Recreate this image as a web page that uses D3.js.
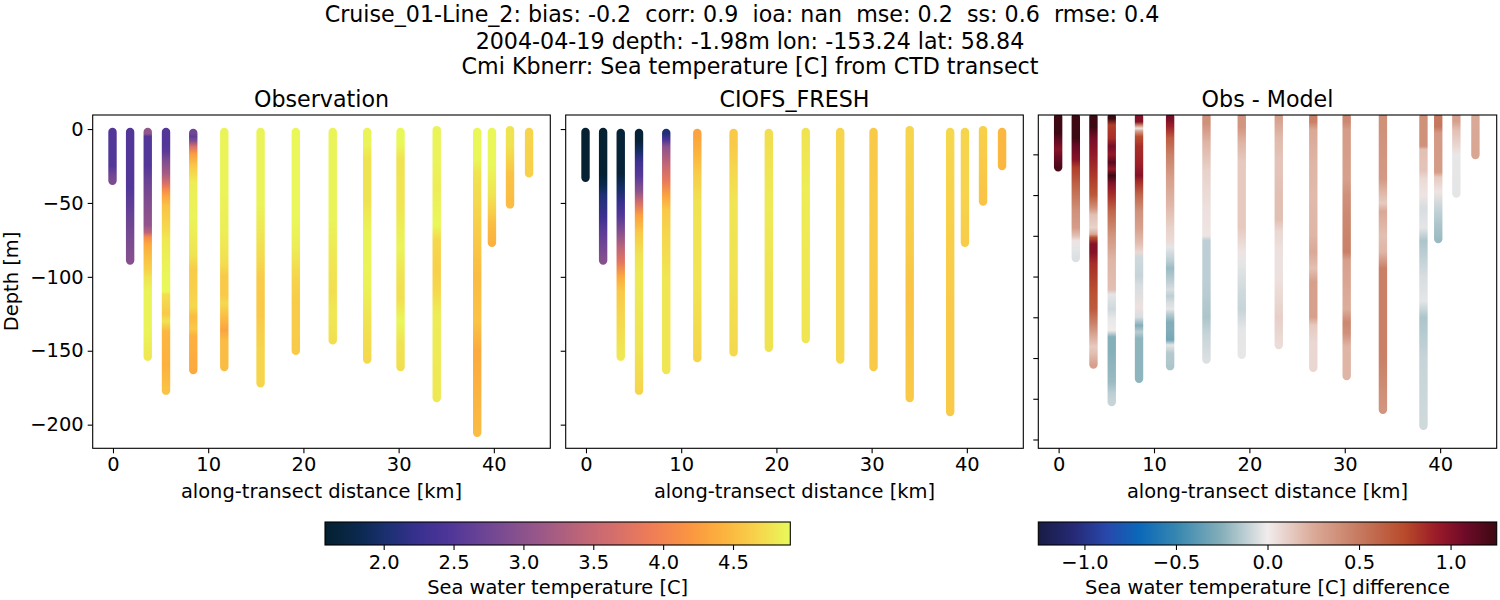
<!DOCTYPE html>
<html>
<head>
<meta charset="utf-8">
<script src="https://cdn.jsdelivr.net/npm/d3@7"></script>
<style>
  html, body { margin: 0; padding: 0; background: #fff; }
  text { font-family: "DejaVu Sans", sans-serif; fill: #000; }
  .axis path, .axis line { stroke: #000; stroke-width: 1.1px; }
  .axis text { font-size: 19.44px; }
</style>
</head>
<body>
<svg id="chart" width="1500" height="600"></svg>
<script>
// along-transect position of each cast [km]
const distances = [-0.05, 1.8, 3.65, 5.57, 8.43, 11.69, 15.5, 19.2, 23.08, 26.7, 30.2, 34, 38.25, 39.8, 41.7, 43.7];

const titleLines = [
    'Cruise_01-Line_2: bias: -0.2  corr: 0.9  ioa: nan  mse: 0.2  ss: 0.6  rmse: 0.4',
    '2004-04-19 depth: -1.98m lon: -153.24 lat: 58.84',
    'Cmi Kbnerr: Sea temperature [C] from CTD transect'
];
const panelTitles = ['Observation', 'CIOFS_FRESH', 'Obs - Model'];
const xTicks = [0, 10, 20, 30, 40];
const depthTicks = [0, -50, -100, -150, -200];
const diffDepthTicks = [-25, -50, -75, -100, -125, -150, -175, -200];
const tempTicks = [2.0, 2.5, 3.0, 3.5, 4.0, 4.5];
const diffTicks = [-1.0, -0.5, 0.0, 0.5, 1.0];

// colormaps
const thermalPos = [0, .08, .13, .2, .27, .35, .45, .55, .62, .7, .78, .85, .92, 1];
const thermalColors = ['#04202f', '#0c2a52', '#1a3070', '#38308f', '#503699', '#6f4694', '#95568a', '#bd6578', '#d46e6c', '#ee7c57', '#fa9442', '#fcb03d', '#f8cf4a', '#e8fa5a'];
const balancePos = [0, .08, .15, .22, .3, .4, .5, .6, .7, .8, .87, .93, 1];
const balanceColors = ['#181c43', '#262a78', '#2848ac', '#0b68b9', '#3586b0', '#85afb9', '#f1ecec', '#dbaa98', '#c67a60', '#b84a2a', '#9a1a28', '#6f0b28', '#3c0912'];
const tempRange = [1.58, 4.91];
const diffRange = [-1.252, 1.252];

// [depth m, temperature C] read down each cast
const obsProfiles = [
    [[-2, 2.5], [-25, 2.5], [-30, 2.7], [-35, 2.85]],
    [[-2, 2.5], [-40, 2.5], [-55, 2.65], [-70, 2.8], [-89, 2.95]],
    [[-2, 3.05], [-3, 3.05], [-5, 2.5], [-25, 2.5], [-35, 2.7], [-50, 2.9], [-65, 3.05], [-70, 3.4], [-73, 4.05], [-78, 4.36], [-85, 4.5], [-95, 4.65], [-100, 4.77], [-110, 4.87], [-135, 4.87], [-154, 4.8]],
    [[-2, 2.5], [-10, 2.5], [-15, 2.55], [-22, 2.9], [-30, 3.2], [-37, 3.7], [-40, 4.0], [-45, 4.3], [-52, 4.55], [-65, 4.68], [-75, 4.8], [-95, 4.87], [-110, 4.9], [-112, 4.74], [-125, 4.6], [-130, 4.77], [-137, 4.46], [-160, 4.42], [-177, 4.55]],
    [[-2.7, 2.75], [-3, 2.75], [-5, 2.6], [-8, 2.9], [-12, 3.7], [-17, 4.25], [-25, 4.6], [-30, 4.7], [-36, 4.83], [-60, 4.87], [-85, 4.77], [-95, 4.62], [-110, 4.65], [-120, 4.7], [-127, 4.5], [-135, 4.6], [-140, 4.42], [-163, 4.36]],
    [[-2, 4.87], [-40, 4.87], [-70, 4.83], [-90, 4.74], [-100, 4.6], [-112, 4.6], [-118, 4.7], [-125, 4.55], [-136, 4.3], [-143, 4.5], [-161, 4.5]],
    [[-2, 4.87], [-50, 4.87], [-75, 4.77], [-90, 4.7], [-100, 4.62], [-125, 4.6], [-150, 4.68], [-172, 4.68]],
    [[-2, 4.89], [-60, 4.89], [-80, 4.83], [-100, 4.68], [-115, 4.62], [-135, 4.62], [-150, 4.6]],
    [[-2, 4.87], [-60, 4.87], [-85, 4.8], [-110, 4.74], [-125, 4.8], [-143, 4.74]],
    [[-2, 4.87], [-10, 4.87], [-20, 4.77], [-50, 4.77], [-70, 4.87], [-90, 4.87], [-110, 4.85], [-130, 4.77], [-156, 4.7]],
    [[-2, 4.9], [-10, 4.9], [-20, 4.77], [-50, 4.78], [-80, 4.87], [-100, 4.77], [-115, 4.74], [-130, 4.89], [-145, 4.77], [-161, 4.74]],
    [[-0.7, 4.87], [-20, 4.87], [-40, 4.83], [-65, 4.9], [-75, 4.7], [-95, 4.65], [-110, 4.7], [-125, 4.83], [-182, 4.8]],
    [[-2, 4.89], [-20, 4.89], [-30, 4.77], [-50, 4.7], [-75, 4.6], [-100, 4.5], [-130, 4.55], [-150, 4.36], [-205.5, 4.5]],
    [[-2, 4.89], [-25, 4.89], [-45, 4.77], [-55, 4.65], [-65, 4.5], [-77, 4.42]],
    [[-0.7, 4.77], [-10, 4.77], [-18, 4.7], [-30, 4.55], [-51, 4.5]],
    [[-2, 4.68], [-30, 4.65]]
];

const modelProfiles = [
    [[-2, 1.6], [-33, 1.6]],
    [[-2, 1.6], [-30, 1.6], [-38, 1.8], [-45, 2.05], [-60, 2.3], [-70, 2.6], [-89, 2.95]],
    [[-2.7, 1.65], [-30, 1.65], [-40, 1.95], [-50, 2.25], [-60, 2.55], [-70, 2.95], [-80, 3.4], [-90, 3.8], [-100, 4.36], [-110, 4.6], [-125, 4.68], [-154, 4.8]],
    [[-2.7, 1.65], [-8, 1.65], [-15, 1.95], [-22, 2.3], [-32, 2.55], [-42, 3.0], [-50, 3.65], [-58, 4.25], [-70, 4.6], [-85, 4.77], [-100, 4.82], [-150, 4.77], [-177, 4.68]],
    [[-2.7, 2.05], [-7, 2.4], [-12, 3.0], [-25, 3.5], [-35, 3.85], [-45, 4.3], [-55, 4.6], [-70, 4.68], [-100, 4.78], [-163, 4.78]],
    [[-2.7, 4.3], [-5, 4.3], [-15, 4.42], [-30, 4.62], [-50, 4.77], [-100, 4.78], [-155, 4.68]],
    [[-2.7, 4.6], [-10, 4.6], [-25, 4.68], [-50, 4.78], [-100, 4.76], [-151, 4.7]],
    [[-2.7, 4.74], [-10, 4.74], [-50, 4.82], [-100, 4.77], [-148, 4.77]],
    [[-2, 4.77], [-40, 4.83], [-100, 4.8], [-142, 4.78]],
    [[-2, 4.68], [-60, 4.7], [-156, 4.7]],
    [[-2, 4.6], [-60, 4.62], [-161, 4.6]],
    [[-0.7, 4.68], [-80, 4.62], [-110, 4.55], [-182, 4.6]],
    [[-2, 4.7], [-60, 4.65], [-130, 4.6], [-191.5, 4.6]],
    [[-2, 4.68], [-40, 4.68], [-77, 4.62]],
    [[-0.7, 4.65], [-49, 4.55]],
    [[-2, 4.46], [-25, 4.46]]
];

const diffProfiles = [
    [[-2, 1.25], [-12, 1.25], [-15, 1.15], [-22, 1.0], [-27, 1.1], [-33, 1.2]],
    [[-2, 1.25], [-15, 1.25], [-20, 1.1], [-28, 1.0], [-33, .8], [-45, .6], [-60, .38], [-70, .32], [-75, .17], [-78, .03], [-83, -.03], [-88.6, -.05]],
    [[-2, 1.25], [-8, 1.25], [-15, 1.05], [-25, .95], [-40, .8], [-50, .68], [-58, .38], [-62, .17], [-70, .1], [-74, .26], [-76, .72], [-80, 1.0], [-85, 1.0], [-92, .85], [-110, .72], [-120, .66], [-130, .43], [-143, .13], [-147, .17], [-154, .3]],
    [[-2, 1.25], [-3, 1.25], [-7, .8], [-15, .85], [-20, 1.05], [-25, .95], [-30, 1.15], [-34, .95], [-38, 1.25], [-43, 1.0], [-50, .85], [-60, .6], [-75, .36], [-90, .21], [-108, .17], [-111, -.03], [-120, -.08], [-126, -.02], [-133, 0], [-137, -.25], [-145, -.25], [-165, -.2], [-172, -.12], [-177, -.1]],
    [[-2, 1.0], [-5, 1.0], [-7, .48], [-9, .04], [-11, .34], [-14, .72], [-20, .85], [-30, .9], [-38, 1.0], [-42, .85], [-50, .6], [-60, .38], [-70, .3], [-80, .17], [-85, .08], [-88, -.08], [-100, -.1], [-105, -.06], [-119, .04], [-125, -.06], [-130, -.26], [-134, -.13], [-138, -.23], [-162.7, -.23]],
    [[-2, 1.05], [-3, 1.05], [-8, .9], [-15, .65], [-25, .47], [-40, .3], [-55, .21], [-70, .1], [-78, .07], [-82, -.03], [-90, -.12], [-95, -.2], [-102, -.13], [-108, -.06], [-112, -.12], [-116, -.06], [-120, -.03], [-123, -.13], [-128, -.26], [-133, -.26], [-139, -.3], [-142, -.03], [-147, -.14], [-155, -.16]],
    [[-2, .38], [-6, .38], [-18, .21], [-35, .1], [-60, .04], [-75, .03], [-78, -.12], [-100, -.12], [-110, -.13], [-125, -.16], [-135, -.1], [-151, -.05]],
    [[-2, .36], [-8, .36], [-18, .21], [-30, .13], [-70, .13], [-85, .03], [-92, -.03], [-110, -.08], [-120, -.1], [-132, -.03], [-148, -.02]],
    [[-2, .3], [-3, .3], [-15, .19], [-30, .15], [-50, .17], [-65, .17], [-72, .08], [-85, .04], [-100, .04], [-115, .08], [-125, .11], [-142, .06]],
    [[-2, .47], [-5, .47], [-10, .26], [-30, .21], [-50, .19], [-75, .21], [-85, .26], [-95, .17], [-103, .3], [-125, .3], [-130, .13], [-140, .08], [-156, .08]],
    [[-2, .43], [-5, .43], [-10, .32], [-40, .3], [-50, .38], [-65, .43], [-85, .47], [-90, .3], [-120, .24], [-128, .43], [-135, .38], [-143, .21], [-161, .21]],
    [[-1, .38], [-10, .38], [-40, .34], [-48, .21], [-55, .13], [-60, .26], [-75, .17], [-85, .21], [-95, .47], [-150, .47], [-181.7, .36]],
    [[-2, .38], [-20, .38], [-22, .17], [-35, .15], [-40, .07], [-50, .03], [-58, -.06], [-70, -.03], [-78, -.16], [-100, -.06], [-115, -.03], [-125, -.16], [-150, -.1], [-191.6, -.08]],
    [[-2, .51], [-8, .51], [-12, .34], [-36, .32], [-39, .13], [-48, .03], [-58, -.1], [-68, -.16], [-77, -.2]],
    [[-1, .3], [-5, .3], [-10, .17], [-20, .08], [-25, -.02], [-49, -.03]],
    [[-2, .26], [-25.4, .27]]
];

const svg = d3.select('#chart');
const defs = svg.append('defs');

const tempFrac = d3.scaleLinear().domain(tempRange).range([0, 1]);
const diffFrac = d3.scaleLinear().domain(diffRange).range([0, 1]);
const thermal = d3.scaleLinear().domain(thermalPos).range(thermalColors);
const balance = d3.scaleLinear().domain(balancePos).range(balanceColors);
const tempColor = v => thermal(tempFrac(v));
const diffColor = v => balance(diffFrac(v));

const axesTop = 115, axesBottom = 448.3;
const xDomain = [-2.13, 45.93];
const depthScale = d3.scaleLinear().domain([9.5, -216]).range([axesTop, axesBottom]);
const diffDepthScale = d3.scaleLinear().domain([-0.86, -205.4]).range([axesTop, axesBottom]);

titleLines.forEach((line, i) => {
    svg.append('text')
        .attr('x', [742, 750, 750][i])
        .attr('y', [21.5, 48.5, 74][i])
        .attr('text-anchor', 'middle')
        .style('font-size', '22.2px')
        .style('white-space', 'pre')
        .attr('xml:space', 'preserve')
        .text(line);
});

function drawPanel(idx, left, right, yScale, yTicks, showY, profiles, color) {
    const x = d3.scaleLinear().domain(xDomain).range([left, right]);
    const g = svg.append('g');

    defs.append('clipPath').attr('id', 'clip' + idx)
        .append('rect')
        .attr('x', left).attr('y', axesTop)
        .attr('width', right - left).attr('height', axesBottom - axesTop);

    const casts = g.append('g').attr('clip-path', `url(#clip${idx})`);

    profiles.forEach((profile, i) => {
        const first = profile[0][0];
        const last = profile[profile.length - 1][0];
        const gradId = `grad${idx}_${i}`;
        // colour runs down the cast along a gradient in pixel space
        const grad = defs.append('linearGradient')
            .attr('id', gradId)
            .attr('gradientUnits', 'userSpaceOnUse')
            .attr('x1', 0).attr('x2', 0)
            .attr('y1', yScale(first)).attr('y2', yScale(last));
        grad.selectAll('stop')
            .data(profile)
            .join('stop')
            .attr('offset', d => (d[0] - first) / (last - first))
            .attr('stop-color', d => color(d[1]));

        casts.append('line')
            .attr('x1', x(distances[i])).attr('x2', x(distances[i]) + 0.01)
            .attr('y1', yScale(first)).attr('y2', yScale(last))
            .attr('stroke', `url(#${gradId})`)
            .attr('stroke-width', 8.4)
            .attr('stroke-linecap', 'round');
    });

    // frame
    g.append('rect')
        .attr('x', left).attr('y', axesTop)
        .attr('width', right - left).attr('height', axesBottom - axesTop)
        .attr('fill', 'none').attr('stroke', '#000').attr('stroke-width', 1.1);

    const xAxis = d3.axisBottom(x).tickValues(xTicks).tickSize(5).tickPadding(4).tickSizeOuter(0);
    g.append('g').attr('class', 'axis')
        .attr('transform', `translate(0,${axesBottom})`)
        .call(xAxis)
        .call(s => s.select('.domain').remove());

    const yAxis = d3.axisLeft(yScale).tickValues(yTicks).tickSize(5).tickPadding(4).tickSizeOuter(0);
    if (!showY) yAxis.tickFormat('');
    g.append('g').attr('class', 'axis')
        .attr('transform', `translate(${left},0)`)
        .call(yAxis)
        .call(s => s.select('.domain').remove());

    g.append('text')
        .attr('x', (left + right) / 2).attr('y', 107)
        .attr('text-anchor', 'middle')
        .style('font-size', '22.2px')
        .text(panelTitles[idx]);

    g.append('text')
        .attr('x', (left + right) / 2).attr('y', 498)
        .attr('text-anchor', 'middle')
        .style('font-size', '19.44px')
        .text('along-transect distance [km]');
}

drawPanel(0, 92.7, 550.3, depthScale, depthTicks, true, obsProfiles, tempColor);
drawPanel(1, 565.7, 1023.3, depthScale, depthTicks, false, modelProfiles, tempColor);
drawPanel(2, 1038.3, 1496.7, diffDepthScale, diffDepthTicks, false, diffProfiles, diffColor);

svg.append('text')
    .attr('transform', 'translate(18,281.5) rotate(-90)')
    .attr('text-anchor', 'middle')
    .style('font-size', '19.44px')
    .text('Depth [m]');

function drawColorbar(id, left, right, range, pos, colors, ticks, fmt, label) {
    const x = d3.scaleLinear().domain(range).range([left, right]);
    const top = 522, bottom = 545;
    const grad = defs.append('linearGradient').attr('id', id);
    grad.selectAll('stop')
        .data(pos)
        .join('stop')
        .attr('offset', d => d)
        .attr('stop-color', (d, i) => colors[i]);
    svg.append('rect')
        .attr('x', left).attr('y', top)
        .attr('width', right - left).attr('height', bottom - top)
        .attr('fill', `url(#${id})`)
        .attr('stroke', '#000').attr('stroke-width', 1.1);
    svg.append('g').attr('class', 'axis')
        .attr('transform', `translate(0,${bottom})`)
        .call(d3.axisBottom(x).tickValues(ticks).tickFormat(fmt).tickSize(5).tickPadding(5).tickSizeOuter(0))
        .call(s => s.select('.domain').remove());
    svg.append('text')
        .attr('x', (left + right) / 2).attr('y', 594)
        .attr('text-anchor', 'middle')
        .style('font-size', '19.44px')
        .text(label);
}

drawColorbar('cbTemp', 325, 790.3, tempRange, thermalPos, thermalColors, tempTicks, d3.format('.1f'), 'Sea water temperature [C]');
drawColorbar('cbDiff', 1038.3, 1496.7, diffRange, balancePos, balanceColors, diffTicks, d3.format('.1f'), 'Sea water temperature [C] difference');
</script>
</body>
</html>
